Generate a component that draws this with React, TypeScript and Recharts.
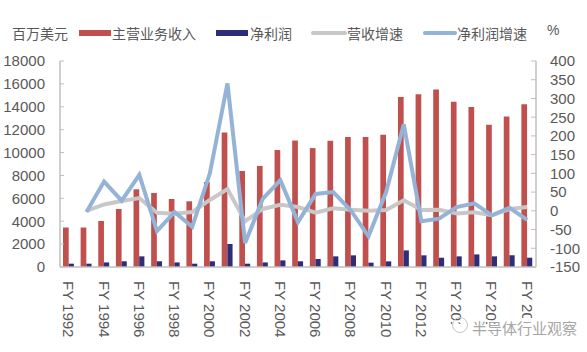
import React from 'react';
import { ComposedChart, Bar, Line, XAxis, YAxis } from 'recharts';

const years = [
  'FY 1992', 'FY 1993', 'FY 1994', 'FY 1995', 'FY 1996', 'FY 1997', 'FY 1998', 'FY 1999',
  'FY 2000', 'FY 2001', 'FY 2002', 'FY 2003', 'FY 2004', 'FY 2005', 'FY 2006', 'FY 2007',
  'FY 2008', 'FY 2009', 'FY 2010', 'FY 2011', 'FY 2012', 'FY 2013', 'FY 2014', 'FY 2015',
  'FY 2016', 'FY 2017', 'FY 2018',
];
const revenue = [
  3450, 3450, 4020, 5070, 6790, 6470, 5940, 5740, 7430, 11750, 8390, 8830, 10220, 11050,
  10390, 11030, 11350, 11350, 11550, 14860, 15100, 15500, 14430, 13990, 12430, 13150, 14230,
];
const netProfit = [
  290, 290, 400, 500, 930, 500, 400, 290, 500, 2010, 290, 400, 580, 500,
  700, 930, 1020, 380, 490, 1450, 1020, 810, 930, 1100, 930, 1020, 810,
];
const revenueGrowth = [
  null, 0, 17, 26, 34, -5, -8, -3, 29, 58, -28, 5, 16, 10,
  -5, 7, 3, 0, 2, 28, 2, 3, -7, -4, -12, 5, 10,
];
const profitGrowth = [
  null, -3, 78, 27, 96, -54, -3, -43, 100, 340, -86, 32, 82, -30,
  45, 50, 1, -68, 50, 231, -28, -21, 10, 20, -12, 8, -24,
];
const leftTicks = [0, 2000, 4000, 6000, 8000, 10000, 12000, 14000, 16000, 18000];
const rightTicks = [-150, -100, -50, 0, 50, 100, 150, 200, 250, 300, 350, 400];

const data = years.map((y, i) => ({
  year: y,
  revenue: revenue[i],
  netProfit: netProfit[i],
  revenueGrowth: revenueGrowth[i],
  profitGrowth: profitGrowth[i],
}));

const FONT = '"Liberation Sans", Arial, "Noto Sans CJK SC", sans-serif';
const CJK = '"Noto Sans CJK SC", "Liberation Sans", sans-serif';
const TXT = '#595959';

const XTick = (props: any) => {
  const { x, y, payload } = props;
  const ty = y + 6;
  return (
    <text
      x={x}
      y={ty}
      transform={`rotate(90, ${x}, ${ty})`}
      textAnchor="start"
      dominantBaseline="central"
      fontSize={15}
      fontFamily={FONT}
      fill={TXT}
    >
      {payload.value}
    </text>
  );
};

const legendText: React.CSSProperties = {
  position: 'absolute',
  top: 24,
  fontSize: 14,
  lineHeight: '18px',
  color: TXT,
  fontFamily: CJK,
  whiteSpace: 'nowrap',
};

export default function App() {
  return (
    <div style={{ position: 'absolute', left: 0, top: 0, width: 587, height: 352, background: '#fff' }}>
      <ComposedChart
        width={587}
        height={352}
        data={data}
        margin={{ top: 61, right: 0, bottom: 0, left: 0 }}
        barGap={0}
      >
        <XAxis
          dataKey="year"
          xAxisId={0}
          interval={1}
          tick={<XTick />}
          tickLine={false}
          height={85}
          axisLine={{ stroke: '#BFBFBF', strokeWidth: 1.5 }}
        />
        <YAxis
          yAxisId="left"
          orientation="left"
          width={60}
          domain={[0, 18000]}
          ticks={leftTicks}
          interval={0}
          tickSize={-4}
          tickMargin={19}
          tick={{ fontSize: 15, fill: TXT, fontFamily: FONT }}
          axisLine={{ stroke: '#BFBFBF', strokeWidth: 1.5 }}
          tickLine={{ stroke: '#BFBFBF' }}
        />
        <YAxis
          yAxisId="right"
          orientation="right"
          width={51}
          domain={[-150, 400]}
          ticks={rightTicks}
          interval={0}
          tickSize={-5}
          tickMargin={19}
          tick={{ fontSize: 15, fill: TXT, fontFamily: FONT, textAnchor: 'start' }}
          axisLine={{ stroke: '#BFBFBF', strokeWidth: 1.5 }}
          tickLine={{ stroke: '#BFBFBF' }}
        />
        <Bar yAxisId="left" dataKey="revenue" fill="#C0504D" barSize={5.7} isAnimationActive={false} />
        <Bar yAxisId="left" dataKey="netProfit" fill="#2E2E78" barSize={5.2} isAnimationActive={false} />
        <Line
          yAxisId="right"
          dataKey="revenueGrowth"
          stroke="#C8C8C8"
          strokeWidth={4}
          dot={false}
          type="linear"
          connectNulls={false}
          isAnimationActive={false}
        />
        <Line
          yAxisId="right"
          dataKey="profitGrowth"
          stroke="#95B3D7"
          strokeWidth={4}
          dot={false}
          type="linear"
          connectNulls={false}
          isAnimationActive={false}
        />
      </ComposedChart>

      <div style={{ ...legendText, left: 12 }}>百万美元</div>
      <div style={{ position: 'absolute', left: 79, top: 30, width: 32, height: 6, background: '#C0504D' }} />
      <div style={{ ...legendText, left: 112 }}>主营业务收入</div>
      <div style={{ position: 'absolute', left: 216, top: 30, width: 32, height: 6, background: '#2E2E78' }} />
      <div style={{ ...legendText, left: 250 }}>净利润</div>
      <div style={{ position: 'absolute', left: 311, top: 31, width: 36, height: 4, borderRadius: 2, background: '#C8C8C8' }} />
      <div style={{ ...legendText, left: 347 }}>营收增速</div>
      <div style={{ position: 'absolute', left: 423, top: 31, width: 34, height: 4, borderRadius: 2, background: '#95B3D7' }} />
      <div style={{ ...legendText, left: 457 }}>净利润增速</div>
      <div style={{ ...legendText, left: 547, top: 21, fontFamily: FONT }}>%</div>

      <div style={{ position: 'absolute', left: 446, top: 324, width: 141, height: 22, background: '#fff' }} />
      <div style={{ position: 'absolute', left: 510, top: 318, width: 30, height: 8, background: '#fff' }} />
      <div
        style={{
          position: 'absolute',
          left: 452,
          top: 317,
          width: 14,
          height: 14,
          borderRadius: 8,
          border: '1.5px solid #C8C8C8',
        }}
      />
      <div
        style={{
          position: 'absolute',
          left: 472,
          top: 317,
          fontSize: 15,
          color: '#A6A6A6',
          fontFamily: CJK,
          whiteSpace: 'nowrap',
        }}
      >
        半导体行业观察
      </div>
    </div>
  );
}
